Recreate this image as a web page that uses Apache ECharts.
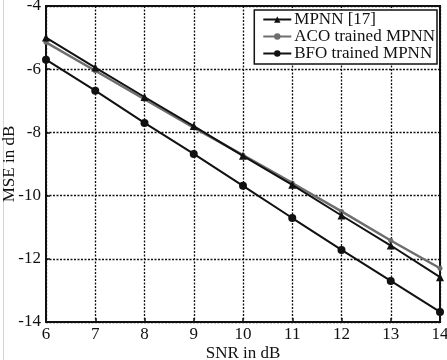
<!DOCTYPE html>
<html>
<head>
<meta charset="utf-8">
<script src="https://cdn.jsdelivr.net/npm/echarts@6/dist/echarts.min.js"></script>
<style>
    html, body { margin: 0; padding: 0; background: #fff; }
    #chart { width: 447px; height: 360px; }
</style>
</head>
<body>
<div id="chart"></div>
<script>
    const snr = [6, 7, 8, 9, 10, 11, 12, 13, 14];
    const mpnn = [-5.0, -5.95, -6.88, -7.8, -8.74, -9.66, -10.63, -11.58, -12.58];
    const acoMpnn = [-5.15, -6.05, -6.95, -7.85, -8.72, -9.6, -10.5, -11.42, -12.3];
    const bfoMpnn = [-5.7, -6.68, -7.7, -8.68, -9.69, -10.71, -11.72, -12.7, -13.68];
    const legendNames = ["MPNN [17]", "ACO trained MPNN", "BFO trained MPNN"];

    const serif = "Liberation Serif";
    const gridLine = { show: true, lineStyle: { color: "#111", type: [2, 1.5], width: 1.3 } };

    function pairs(values) {
        return snr.map((x, i) => [x, values[i]]);
    }

    const chart = echarts.init(document.getElementById("chart"));
    chart.setOption({
        animation: false,
        backgroundColor: "#fff",
        textStyle: { fontFamily: serif },
        graphic: [
            {
                type: "line",
                shape: { x1: 3.5, y1: 0, x2: 3.5, y2: 360 },
                style: { stroke: "#d4d4d4", lineWidth: 1 }
            }
        ],
        grid: {
            left: 46,
            right: 7,
            top: 6,
            bottom: 38,
            outerBoundsMode: "none",
            containLabel: false,
            show: true,
            borderColor: "#111",
            borderWidth: 2
        },
        legend: {
            orient: "vertical",
            right: 10,
            top: 10,
            data: legendNames,
            backgroundColor: "#fff",
            borderColor: "#111",
            borderWidth: 1.5,
            borderRadius: 0,
            padding: [1, 2, 2, 8],
            itemGap: 0,
            itemWidth: 28,
            itemHeight: 8,
            textStyle: { fontFamily: serif, fontSize: 17, color: "#111", padding: [0, 0, 0, -2] }
        },
        xAxis: {
            type: "value",
            min: 6,
            max: 14,
            interval: 1,
            name: "SNR in dB",
            nameLocation: "middle",
            nameGap: 23,
            nameMoveOverlap: false,
            nameTextStyle: { fontFamily: serif, fontSize: 17, color: "#111" },
            axisLine: { show: false },
            axisTick: { show: true, inside: true, length: 4, lineStyle: { color: "#111", width: 1.5 } },
            axisLabel: { fontFamily: serif, fontSize: 17, color: "#111", margin: 4 },
            splitLine: gridLine
        },
        yAxis: {
            type: "value",
            min: -14,
            max: -4,
            interval: 2,
            name: "MSE in dB",
            nameLocation: "middle",
            nameGap: 28,
            nameMoveOverlap: false,
            nameTextStyle: { fontFamily: serif, fontSize: 17, color: "#111" },
            axisLine: { show: false },
            axisTick: { show: true, inside: true, length: 4, lineStyle: { color: "#111", width: 1.5 } },
            axisLabel: { fontFamily: serif, fontSize: 17, color: "#111", margin: 5 },
            splitLine: gridLine
        },
        series: [
            {
                name: legendNames[0],
                type: "line",
                data: pairs(mpnn),
                symbol: "triangle",
                symbolSize: 8,
                color: "#111",
                lineStyle: { color: "#111", width: 2 },
                itemStyle: { color: "#111" },
                z: 3
            },
            {
                name: legendNames[1],
                type: "line",
                data: pairs(acoMpnn),
                symbol: "circle",
                symbolSize: 5,
                color: "#6e6e6e",
                lineStyle: { color: "#6e6e6e", width: 2.5 },
                itemStyle: { color: "#6e6e6e" },
                z: 2
            },
            {
                name: legendNames[2],
                type: "line",
                data: pairs(bfoMpnn),
                symbol: "circle",
                symbolSize: 8,
                color: "#111",
                lineStyle: { color: "#111", width: 2 },
                itemStyle: { color: "#111" },
                z: 3
            }
        ]
    });
</script>
</body>
</html>
